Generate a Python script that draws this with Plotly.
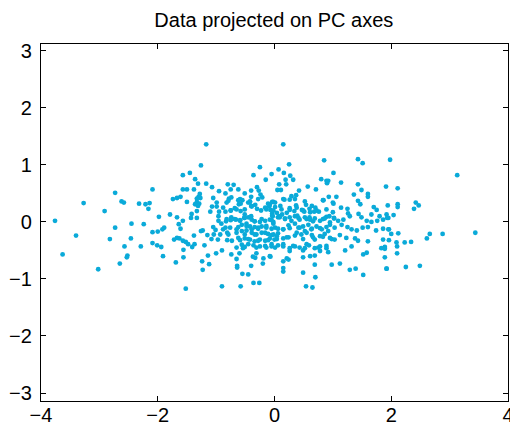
import plotly.graph_objects as go

# Projected data (PC1 scores, PC2 scores)
pc1 = [
    # left sparse region
    -3.27, -2.73, -2.91, -2.62, -2.58, -2.32, -2.21, -2.14, -2.09, -2.16, -1.98,
    -3.76, -3.40, -3.63, -3.02, -2.73, -2.45, -2.24, -2.82, -2.46, -2.57, -2.29,
    -2.65, -2.52, -2.53, -2.09, -2.00, -2.09, -2.01,
    # right sparse region
    1.98, 3.13, 1.91, 2.11, 2.42, 2.47, 2.11, 2.11, 2.39, 1.92, 2.04, 1.93,
    1.96, 2.00, 2.12, 1.96, 1.89, 2.09, 2.10, 2.23, 2.34, 2.10, 2.61, 2.66,
    2.88, 3.44, 1.92, 2.25, 2.49, 1.89,
    # upper left-centre
    -1.17, -1.26, -1.57, -1.45, -1.36, -1.31, -1.17, -1.07, -1.57, -1.50, -1.38,
    -1.28, -1.30, -1.33, -1.27, -1.33, -1.29, -1.36, -1.31, -1.67, -1.61, -1.74,
    -1.50, -1.05, -0.95, -0.80, -0.70, -0.75, -0.84, -0.62, -0.51, -0.59, -0.55,
    -0.78, -0.74, -0.82, -0.99, -0.36, -0.25, -0.15, -0.05, -0.30, -0.40, -0.27,
    -0.24, -0.21, -0.40, -0.42, -0.45, -0.40, -0.33, -0.61, -1.07, -0.99, -0.88,
    -0.84, -0.68, -0.75, -0.95, -1.10, -1.33, -1.42, -1.43, -1.33, -1.79, -1.67,
    -0.58, -0.30, -0.23, -0.09, -0.04, -0.14, -0.51, -0.40, -0.04, -0.74, -0.96,
    # upper right-centre
    0.15, 0.25, 0.07, 0.16, 0.27, 0.19, 0.32, 0.08, 0.20, 0.05, 0.11, 0.42,
    0.57, 0.71, 0.80, 0.85, 0.89, 0.92, 0.90, 1.01, 1.14, 1.43, 1.51, 1.43,
    1.49, 1.60, 1.60, 1.36, 0.29, 0.37, 0.17, 0.26, -0.02, -0.08, 0.01, 0.10,
    -0.07, 0.04, 0.13, 0.21, 0.26, 0.37, 0.34, 0.47, 0.54, 0.60, 0.64, 0.70,
    0.51, 0.68, 0.76, 0.84, 0.93, 1.06, 1.01, 1.14, 1.25, 1.43, 1.47, 1.70,
    1.75, 1.94, 1.26, 1.44, 1.66, 1.80, 0.89, 1.02, 0.39, 0.60, 0.09, -0.04,
    # lower left-centre
    -1.57, -1.89, -1.92, -1.64, -1.61, -1.26, -1.23, -1.15, -1.05, -1.01, -1.04,
    -0.93, -0.88, -0.84, -0.81, -0.96, -0.91, -0.83, -0.75, -0.66, -1.72, -1.67,
    -1.63, -1.57, -1.52, -1.48, -1.38, -1.37, -1.41, -1.56, -1.20, -1.08, -0.97,
    -0.81, -1.94, -1.91, -1.56, -1.69, -1.24, -1.14, -1.12, -1.23, -1.00, -0.90,
    -0.74, -0.65, -0.60, -0.54, -0.64, -0.64, -0.55, -0.45, -0.40, -0.33, -0.31,
    -0.19, -0.20, -0.37, -0.07, -1.52, -0.90, -0.58, -0.36, -0.26,
    # dense centre, left half
    -0.59, -0.52, -0.45, -0.39, -0.34, -0.25, -0.16, -0.08, -0.02, -0.56, -0.48,
    -0.42, -0.34, -0.28, -0.22, -0.14, -0.05, -0.65, -0.56, -0.48, -0.39, -0.31,
    -0.22, -0.11, -0.02, -0.62, -0.51, -0.42, -0.34, -0.25, -0.16, -0.08, 0.00,
    -0.56, -0.45, -0.36, -0.25, -0.14, -0.05,
    -0.79, -0.62, -0.58, -0.42, -0.28, -0.11, 0.01, -0.75, -0.65, -0.51, -0.39,
    -0.16, -0.02, -0.82, -0.68, -0.59, -0.51, -0.42, -0.34, -0.22, -0.05, 0.06,
    -0.76, -0.62, -0.48, -0.39, -0.28, -0.14, 0.01, -0.79, -0.65, -0.51, -0.34,
    -0.16, -0.05, 0.06, -0.73, -0.59, -0.45, -0.28, -0.11, 0.04, -0.65, -0.51,
    -0.31, -0.16, 0.01,
    # dense centre, right half
    0.15, 0.35, 0.52, 0.83, 1.00, 0.12, 0.26, 0.38, 0.49, 0.61, 0.72, 0.89,
    1.00, 0.18, 0.29, 0.41, 0.55, 0.66, 0.83, 0.95, 0.15, 0.26, 0.43, 0.52,
    0.63, 0.78, 0.92, 0.21, 0.35, 0.49, 0.66, 0.83, 0.98, 0.15, 0.32, 0.55,
    0.75, 0.89, 0.26, 0.49, 0.78,
    # lower right-centre
    -0.03, 0.08, 0.18, 0.26, 0.35, 0.43, 0.52, 0.61, 0.69, 0.78, 0.86, 0.94,
    1.02, 1.09, 1.18, 1.29, 1.49, 1.58, 1.66, 1.76, 1.86, 1.95,
    -0.02, 0.06, 0.15, 0.24, 0.35, 0.41, 0.49, 0.58, 0.64, 0.72, 0.81, 0.89,
    0.95, 1.03, 1.15, 1.25, 1.32, 1.41, 1.51, 1.60, 1.74, 1.86, 1.95,
    0.04, 0.15, 0.24, 0.38, 0.46, 0.55, 0.64, 0.69, 0.78, 0.86, 0.95, 1.03,
    1.12, 1.23, 1.38, 1.43, 1.60, 1.86,
    -0.05, 0.06, 0.15, 0.26, 0.35, 0.43, 0.52, 0.59, 0.69, 0.78, 0.89, 0.92,
    1.21, 1.32, 1.52, 1.58, 1.83, 1.89,
    -0.08, 0.21, 0.15, 0.24, 0.49, 0.61, 0.69, 0.69, 0.98, 1.12, 1.29, 1.39,
    1.52, 1.92,
    0.15, 0.15, 0.49, 0.70, 0.54, 0.65,
]

pc2 = [
    # left sparse region
    0.33, 0.51, 0.19, 0.36, 0.34, 0.32, 0.31, 0.33, 0.57, 0.23, 0.09,
    0.02, -0.24, -0.57, -0.83, -0.10, -0.03, -0.04, -0.30, -0.29, -0.43, -0.43,
    -0.73, -0.59, -0.62, -0.18, -0.17, -0.37, -0.41,
    # right sparse region
    1.09, 0.82, 0.62, 0.59, 0.34, 0.29, 0.31, 0.26, 0.23, 0.13, 0.12, 0.07,
    -0.13, -0.21, -0.20, -0.32, -0.44, -0.36, -0.43, -0.36, -0.35, -0.55, -0.29, -0.21,
    -0.21, -0.19, -0.82, -0.79, -0.77, -0.62,
    # upper left-centre
    1.36, 0.99, 0.82, 0.86, 0.75, 0.67, 0.67, 0.61, 0.57, 0.57, 0.57,
    0.49, 0.44, 0.41, 0.42, 0.35, 0.32, 0.31, 0.28, 0.42, 0.44, 0.40,
    0.35, 0.42, 0.54, 0.66, 0.65, 0.57, 0.50, 0.57, 0.50, 0.40, 0.38,
    0.41, 0.43, 0.34, 0.34, 0.82, 0.96, 0.74, 0.84, 0.61, 0.55, 0.55,
    0.48, 0.43, 0.44, 0.35, 0.34, 0.28, 0.30, 0.31, 0.27, 0.27, 0.25,
    0.18, 0.24, 0.20, 0.18, 0.18, 0.19, 0.14, 0.07, 0.07, 0.13, 0.08,
    0.19, 0.23, 0.20, 0.27, 0.35, 0.22, 0.13, 0.10, 0.15, 0.08, 0.10,
    # upper right-centre
    1.36, 1.01, 0.92, 0.86, 0.81, 0.74, 0.74, 0.66, 0.66, 0.56, 0.56, 0.55,
    0.62, 0.57, 0.75, 1.08, 0.72, 0.72, 0.68, 0.86, 0.69, 1.10, 1.03, 0.66,
    0.56, 0.49, 0.44, 0.48, 0.45, 0.47, 0.39, 0.39, 0.35, 0.30, 0.26, 0.28,
    0.21, 0.16, 0.13, 0.16, 0.24, 0.29, 0.19, 0.21, 0.30, 0.23, 0.28, 0.25,
    0.18, 0.18, 0.18, 0.38, 0.44, 0.44, 0.32, 0.25, 0.23, 0.37, 0.31, 0.26,
    0.21, 0.29, 0.15, 0.14, 0.13, 0.10, 0.09, 0.07, 0.11, 0.08, 0.08, 0.11,
    # lower left-centre
    0.02, -0.10, -0.13, -0.04, -0.12, -0.16, -0.15, -0.23, -0.09, -0.14, -0.22,
    -0.22, -0.13, -0.10, -0.19, 0.02, -0.03, 0.01, 0.03, 0.04, -0.31, -0.28,
    -0.29, -0.33, -0.35, -0.39, -0.24, -0.39, -0.44, -0.49, -0.41, -0.30, -0.31,
    -0.32, -0.44, -0.60, -0.62, -0.71, -0.69, -0.59, -0.74, -0.84, -0.55, -0.50,
    -0.57, -0.65, -0.55, -0.46, -0.77, -0.80, -0.91, -0.92, -0.77, -0.63, -0.55,
    -0.64, -0.73, -0.61, -0.61, -1.17, -1.13, -1.13, -1.07, -1.07,
    # dense centre, left half
    0.03, 0.07, 0.08, 0.04, 0.01, 0.00, 0.02, 0.04, 0.00, -0.05, -0.03,
    -0.08, -0.09, -0.12, -0.08, -0.10, -0.12, -0.13, -0.16, -0.15, -0.19, -0.22,
    -0.19, -0.21, -0.22, -0.28, -0.29, -0.31, -0.34, -0.31, -0.33, -0.29, -0.31,
    -0.40, -0.39, -0.41, -0.43, -0.45, -0.43,
    0.37, 0.38, 0.32, 0.36, 0.40, 0.32, 0.34, 0.20, 0.22, 0.22, 0.27,
    0.25, 0.20, 0.05, 0.05, 0.02, 0.07, 0.08, 0.01, 0.05, 0.03, 0.08,
    -0.10, -0.09, -0.07, -0.13, -0.10, -0.07, -0.10, -0.22, -0.19, -0.22, -0.22,
    -0.19, -0.23, -0.20, -0.33, -0.32, -0.30, -0.33, -0.32, -0.30, -0.45, -0.44,
    -0.45, -0.42, -0.45,
    # dense centre, right half
    0.40, 0.40, 0.36, 0.38, 0.34, 0.22, 0.21, 0.25, 0.20, 0.17, 0.20, 0.22,
    0.17, 0.05, 0.02, 0.07, 0.05, 0.01, 0.05, -0.01, -0.13, -0.11, -0.10, -0.16,
    -0.13, -0.11, -0.16, -0.27, -0.24, -0.30, -0.27, -0.26, -0.30, -0.39, -0.42, -0.39,
    -0.45, -0.42, -0.51, -0.50, -0.51,
    # lower right-centre
    0.10, 0.10, 0.06, 0.08, 0.10, 0.04, 0.08, 0.04, 0.06, 0.02, 0.06, 0.10,
    0.06, 0.02, 0.04, 0.10, 0.08, 0.02, 0.00, 0.02, 0.04, 0.07,
    -0.03, -0.12, -0.13, -0.06, -0.03, -0.10, -0.08, -0.05, -0.12, -0.08, -0.13, -0.09,
    -0.05, -0.10, -0.05, -0.09, -0.13, -0.15, -0.10, -0.09, -0.15, -0.12, -0.13,
    -0.25, -0.29, -0.27, -0.19, -0.22, -0.19, -0.23, -0.31, -0.25, -0.21, -0.28, -0.31,
    -0.23, -0.28, -0.29, -0.33, -0.34, -0.31,
    -0.39, -0.41, -0.43, -0.46, -0.43, -0.45, -0.46, -0.41, -0.46, -0.43, -0.46, -0.53,
    -0.50, -0.43, -0.57, -0.54, -0.46, -0.47,
    -0.60, -0.64, -0.69, -0.66, -0.62, -0.60, -0.59, -0.75, -0.75, -0.73, -0.84, -0.82,
    -0.93, -0.82,
    -0.81, -0.87, -0.89, -0.97, -1.13, -1.15,
]

x_ticks = [-4, -2, 0, 2, 4]
y_ticks = [-3, -2, -1, 0, 1, 2, 3]

n = min(len(pc1), len(pc2))

FONT = "Liberation Sans, Arial, sans-serif"

fig = go.Figure()
fig.add_trace(go.Scatter(
    x=pc1[:n], y=pc2[:n], mode="markers",
    marker=dict(size=4.8, color="#0AAAD9", line=dict(width=0)),
    hoverinfo="skip", showlegend=False,
))

axis_common = dict(
    showgrid=False, zeroline=False, showline=True, linecolor="black", linewidth=1.2,
    mirror="ticks", ticks="inside", ticklen=5, tickwidth=1, tickcolor="black",
    automargin=False, ticklabeloverflow="allow",
    tickfont=dict(family=FONT, size=20, color="black"),
)

def lab(v):
    return ("\u2212" + str(abs(v))) if v < 0 else str(v)

fig.update_layout(
    width=510, height=426,
    margin=dict(l=41, r=2, t=44, b=25),
    paper_bgcolor="white", plot_bgcolor="white",
    title=dict(text="Data projected on PC axes", x=0.537, xanchor="center",
               y=0.952, yanchor="middle",
               font=dict(family=FONT, size=20, color="black")),
    xaxis=dict(range=[-4, 4], tickvals=x_ticks, ticktext=[lab(v) for v in x_ticks],
               ticklabelstandoff=-4, **axis_common),
    yaxis=dict(range=[-3.14, 3.12], tickvals=y_ticks, ticktext=[lab(v) for v in y_ticks],
               ticklabelstandoff=4, **axis_common),
)

fig.write_html("out.html", config={"displayModeBar": False, "staticPlot": True},
               post_script="document.body.style.margin='0';document.body.style.overflow='hidden';")
